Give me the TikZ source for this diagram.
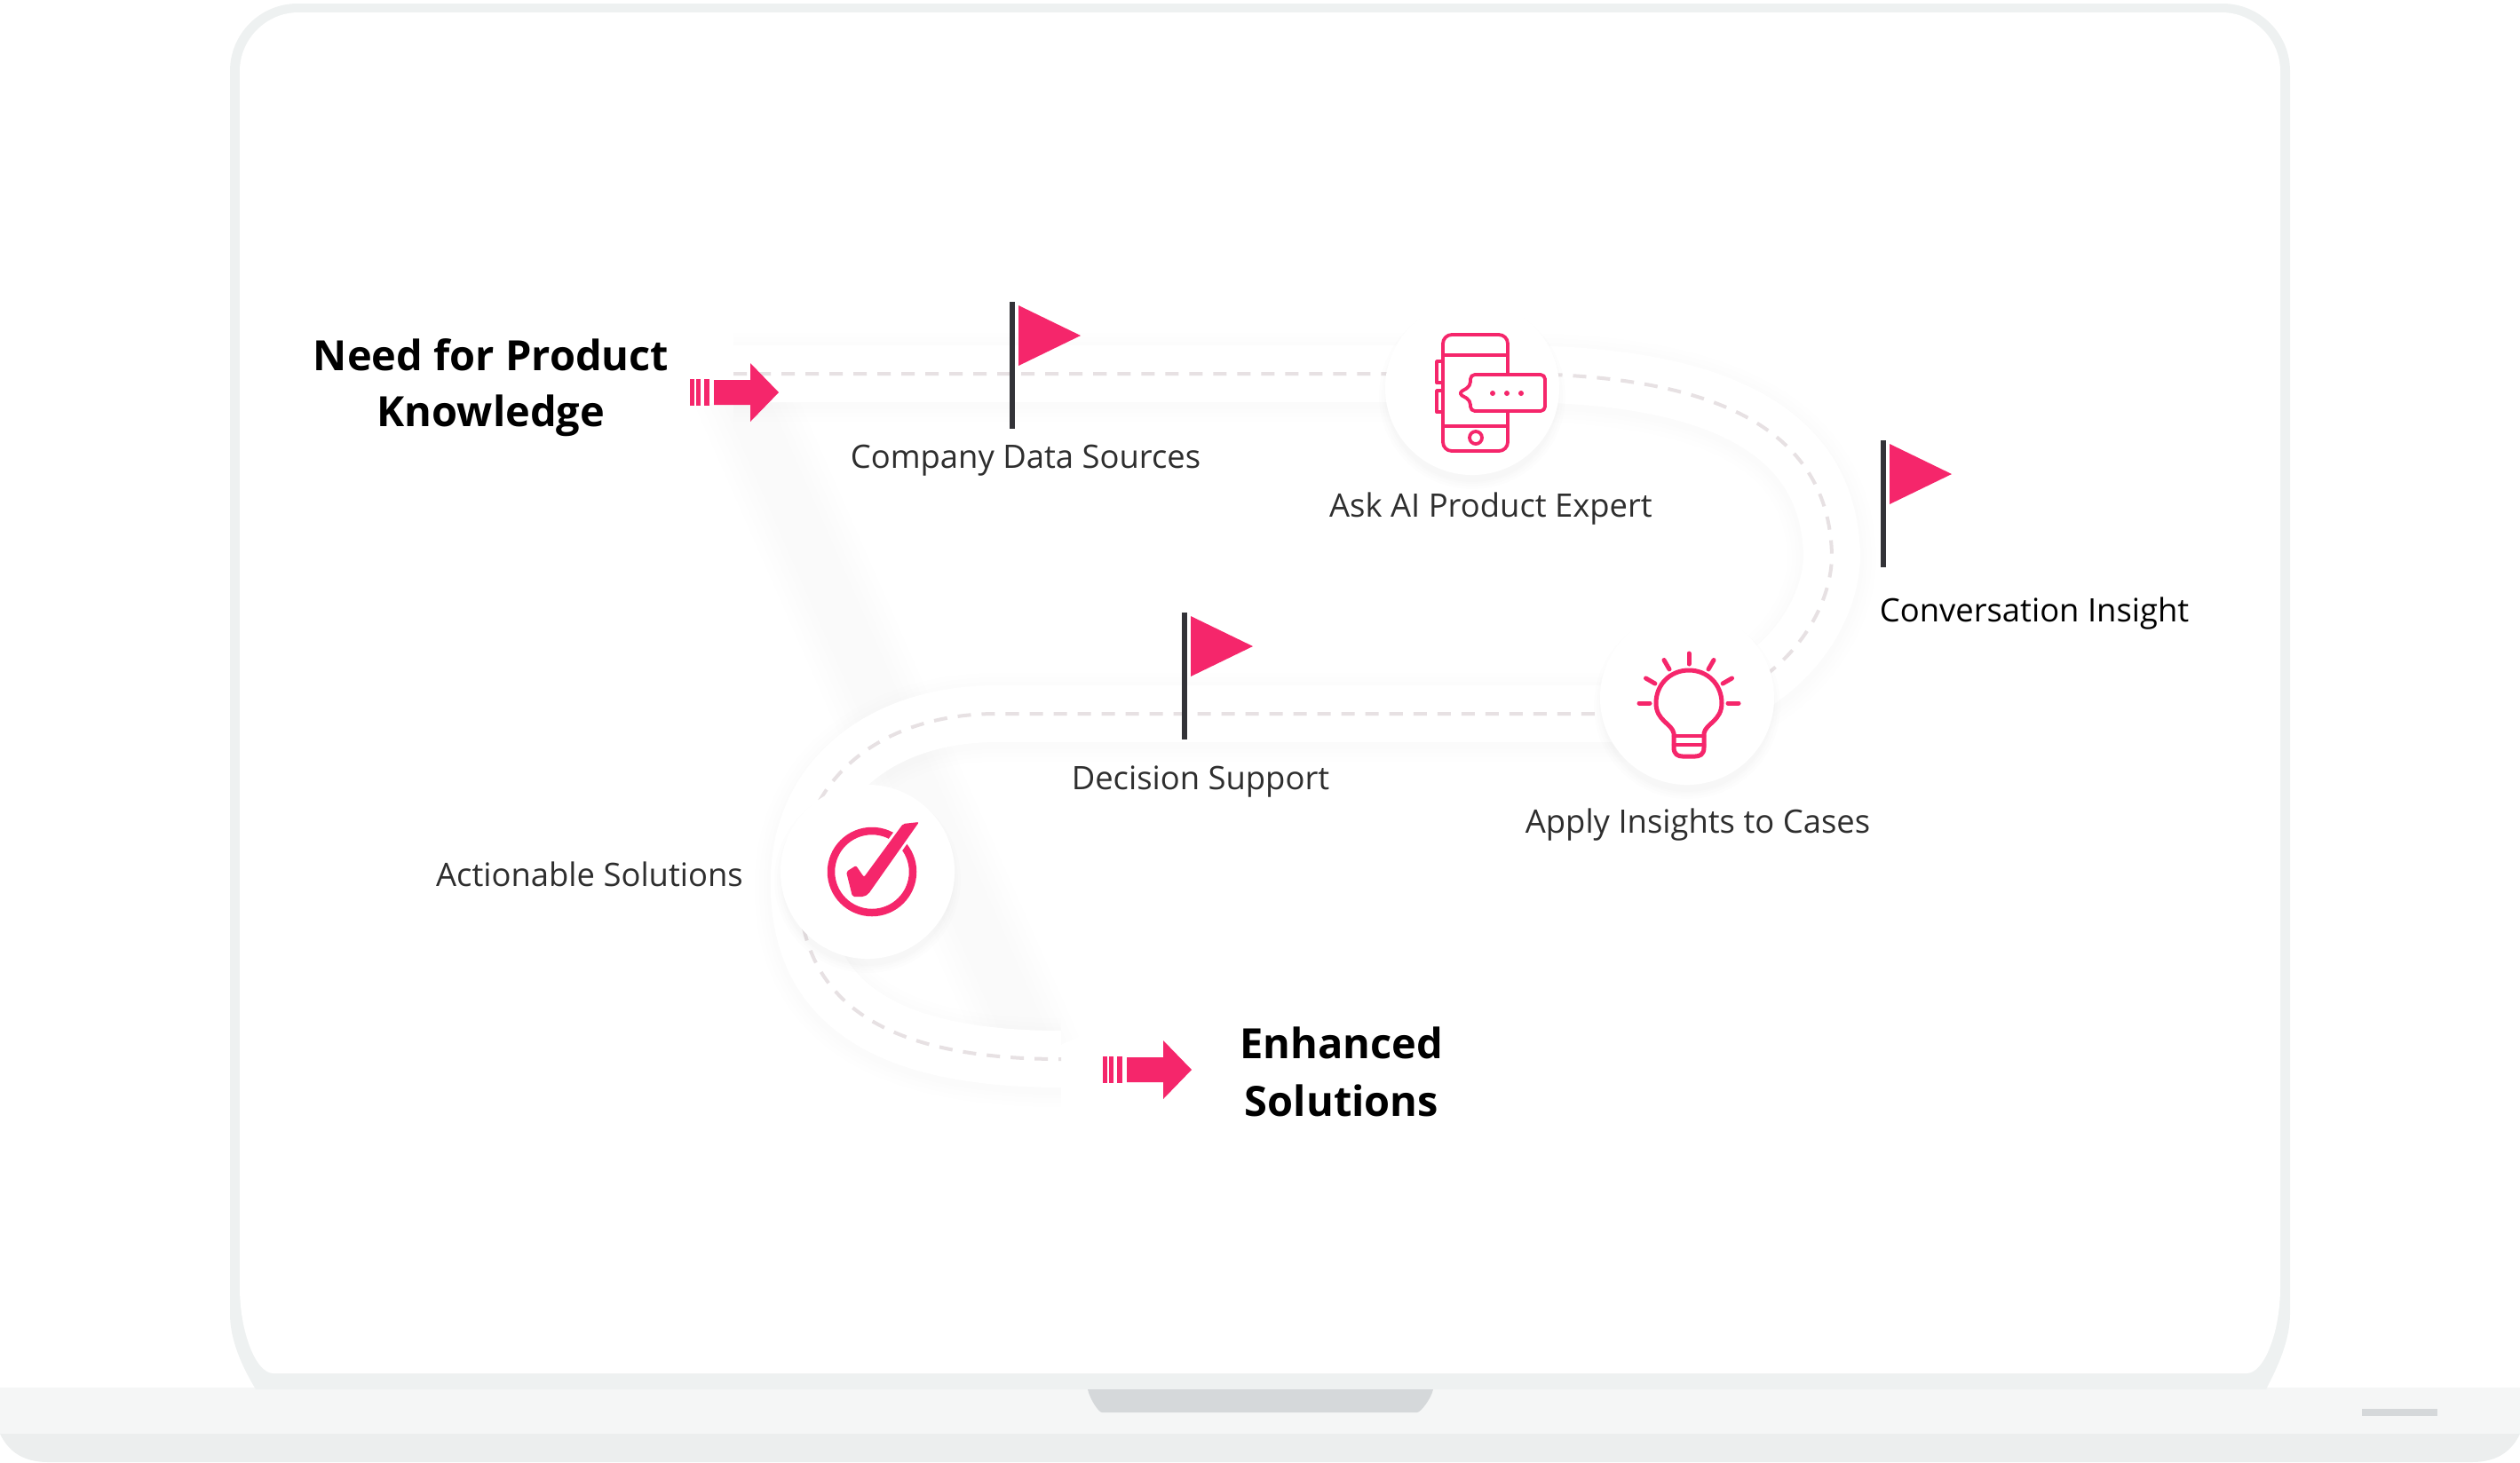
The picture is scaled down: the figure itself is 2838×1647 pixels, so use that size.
\documentclass[tikz,border=0pt]{standalone}
\usepackage{fontspec}
\setmainfont{Open Sans}
\definecolor{accentpink}{HTML}{F5266B}
\definecolor{lidgrey}{HTML}{EEF1F1}
\definecolor{basegrey}{HTML}{F5F6F6}
\definecolor{basedark}{HTML}{ECEEEE}
\definecolor{notchgrey}{HTML}{D5D8DA}
\definecolor{dashgrey}{HTML}{E7E1E3}
\definecolor{polegrey}{HTML}{333338}
\newcommand{\roadline}{(826,421) -- (1700,421) .. controls (1960,421) and (2060,500) .. (2063,625)
  .. controls (2063,700) and (1990,804) .. (1850,804) -- (1122,804)
  .. controls (1000,804) and (905,870) .. (900,985)
  .. controls (895,1125) and (990,1193) .. (1195,1193)}
\tikzset{
  labeltext/.style={font=\fontsize{10.35}{13}\selectfont,text=black!82,inner sep=0pt},
  headtext/.style={font=\fontsize{13.35}{16}\selectfont\bfseries,text=black,inner sep=0pt,text height=0.8em,text depth=0.25em},
  stopdisc/.style={circle,fill=white,minimum size=19.6cm/10,inner sep=0pt},
  softshade/.style={draw=black,opacity=0.004},
  iconline/.style={draw=accentpink,line width=0.38mm,line join=round,line cap=round},
  flagmark/.pic={
    \draw[polegrey,line width=0.55mm] (0,0) -- (0,143);
    \fill[accentpink] (7,4) -- (77,38) -- (7,72) -- cycle;
  },
  arrowmark/.pic={
    \foreach \a/\b in {0/5,7/12,16/22}
      \fill[accentpink] (\a,-15) rectangle (\b,15);
    \fill[accentpink] (27,-14) -- (68,-14) -- (68,-33) -- (100,0) -- (68,33) -- (68,14) -- (27,14) -- cycle;
  },
}
\begin{document}
\begin{tikzpicture}[x=0.01cm,y=-0.01cm]
  \useasboundingbox (0,0) rectangle (2838,1647);
  % laptop
  \fill[basegrey] (0,1563) -- (2838,1563) -- (2838,1615) -- (0,1615) -- cycle;
  \fill[basedark] (0,1615) -- (2838,1615) .. controls (2830,1632) and (2815,1647) .. (2784,1647)
    -- (54,1647) .. controls (23,1647) and (8,1632) .. (0,1615) -- cycle;
  \fill[lidgrey] (259,80) .. controls (259,38) and (293,4) .. (335,4) -- (2503,4)
    .. controls (2545,4) and (2579,38) .. (2579,80) -- (2579,1480)
    .. controls (2579,1510) and (2565,1540) .. (2552,1565) -- (288,1565)
    .. controls (273,1540) and (259,1510) .. (259,1480) -- cycle;
  \fill[white] (270,80) .. controls (270,44) and (300,14) .. (336,14) -- (2502,14)
    .. controls (2538,14) and (2568,44) .. (2568,80) -- (2568,1450)
    .. controls (2568,1500) and (2550,1547) .. (2530,1547) -- (308,1547)
    .. controls (288,1547) and (270,1500) .. (270,1450) -- cycle;
  \fill[notchgrey] (1225,1565) -- (1614,1565) .. controls (1612,1575) and (1600,1591) .. (1596,1591)
    -- (1241,1591) .. controls (1237,1591) and (1227,1575) .. (1225,1565) -- cycle;
  \fill[notchgrey] (2660,1587) rectangle (2745,1595);
  % soft shadows under the road
  \foreach \w in {110,95,80,65,50}
    \draw[softshade,line width=\w*0.1mm] (835,440) -- (1165,1190);
  \foreach \w in {100,90,80,72}
    \draw[softshade,line width=\w*0.1mm,yshift=-0.04cm] \roadline;
  \draw[white,line width=6.4mm] \roadline;
  \draw[dashgrey,line width=0.4mm,dash pattern=on 1.5mm off 1.2mm] \roadline;
  % stops
  \coordinate (phonec) at (1658,437);
  \coordinate (bulbc) at (1900,786);
  \coordinate (checkc) at (977,982);
  \foreach \c in {phonec,bulbc,checkc}
    \foreach \r in {105,102,99,97}
      \fill[black,opacity=0.008] (\c) ++(0,9) circle[radius=\r];
  \node[stopdisc] (phone) at (phonec) {};
  \node[stopdisc] (bulb) at (bulbc) {};
  \node[stopdisc] (check) at (checkc) {};
  % phone icon
  \draw[iconline,rounded corners=1mm] (1625,377) rectangle (1698,508);
  \draw[iconline] (1625,400) -- (1698,400);
  \draw[iconline] (1625,480) -- (1698,480);
  \draw[iconline] (1662,493) circle[radius=7];
  \draw[iconline] (1625,407) -- (1618,407) -- (1618,431) -- (1625,431);
  \draw[iconline] (1625,440) -- (1618,440) -- (1618,464) -- (1625,464);
  \draw[iconline,fill=white,rounded corners=0.5mm] (1642,443) -- (1656,435) -- (1656,422) -- (1740,422)
    -- (1740,463) -- (1656,463) -- (1656,451) -- cycle;
  \foreach \x in {1681,1697,1713}
    \fill[accentpink] (\x,443) circle[radius=3];
  % bulb icon
  \draw[iconline,line width=0.5mm] (1885,826) .. controls (1883,815) and (1865,812) .. (1865,792)
    .. controls (1865,771) and (1881,755) .. (1902,755)
    .. controls (1923,755) and (1939,771) .. (1939,792)
    .. controls (1939,812) and (1921,815) .. (1919,826)
    -- (1919,842) .. controls (1919,850) and (1914,852) .. (1909,852) -- (1895,852)
    .. controls (1890,852) and (1885,850) .. (1885,842) -- cycle;
  \draw[iconline,line width=0.45mm] (1885,829) -- (1919,829);
  \draw[iconline,line width=0.45mm] (1885,839) -- (1919,839);
  \coordinate (bulbtop) at (1902,792);
  \foreach \a in {0,30,60,90,120,150,180}
    \draw[iconline,line width=0.5mm] (bulbtop) ++(-\a:44) -- ++(-\a:12);
  % check icon
  \draw[accentpink,line width=0.85mm] (982,982) circle[radius=46];
  \fill[accentpink,draw=white,line width=0.6mm,line join=round] (953,982) -- (964,975) -- (973,988) -- (1017,928) -- (1035,926)
    -- (978,1007) -- (973,1010) -- (960,1010) -- cycle;
  \fill[accentpink,rounded corners=0.2mm] (953,982) -- (964,975) -- (973,988) -- (1017,928) -- (1035,926)
    -- (978,1007) -- (973,1010) -- (960,1010) -- cycle;
  % flags and arrows
  \pic at (1140,340) {flagmark};
  \pic at (2121,496) {flagmark};
  \pic at (1334,690) {flagmark};
  \pic at (777,442) {arrowmark};
  \pic at (1242,1205) {arrowmark};
  % labels
  \node[headtext] (needa) at (553,408) {Need for Product};
  \node[headtext] (needb) at (553,471) {Knowledge};
  \node[labeltext] (sources) at (1155,519) {Company Data Sources};
  \node[labeltext] (expert) at (1679,573) {Ask AI Product Expert};
  \node[labeltext,text=black] (insight) at (2291,691) {Conversation Insight};
  \node[labeltext] (support) at (1352,880) {Decision Support};
  \node[labeltext] (cases) at (1912,929) {Apply Insights to Cases};
  \node[labeltext] (actions) at (664,985) {Actionable Solutions};
  \node[headtext] (enhanced) at (1511,1183) {Enhanced};
  \node[headtext] (solutions) at (1511,1248) {Solutions};
\end{tikzpicture}
\end{document}
